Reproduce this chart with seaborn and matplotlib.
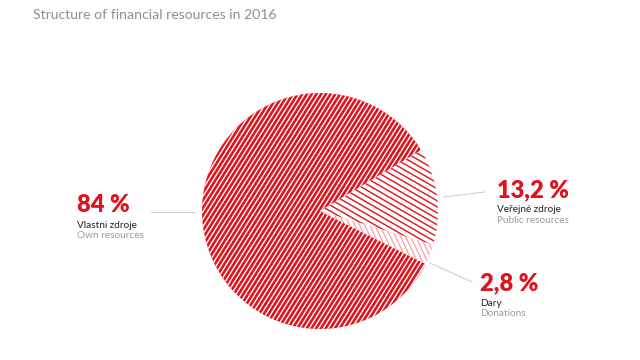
import numpy as np
import seaborn as sns
import matplotlib.pyplot as plt
from matplotlib.collections import LineCollection

# Data
categories_cz = ["Vlastni zdroje", "Veřejné zdroje", "Dary"]
categories_en = ["Own resources", "Public resources", "Donations"]
shares = [84.0, 13.2, 2.8]

sns.set_theme(style="white")
plt.rcParams['font.family'] = ['Lato', 'DejaVu Sans']

RED = "#e0121c"
PINK = "#f3a3a8"
GREY = "#9b9b9b"

fig = plt.figure(figsize=(6.4, 3.6), dpi=100)
ax = fig.add_axes([0, 0, 1, 1])

center = (320, 149)
radius = 118
wedges, _ = ax.pie(shares, center=center, radius=radius, startangle=-26.6,
                   counterclock=False, colors=[RED, "white", "white"],
                   wedgeprops=dict(linewidth=0, edgecolor="none"))

# stripe fill for each wedge: (angle, spacing, colour, width in pt)
stripes = [(58, 4.0, "white", 1.0), (-30, 5.2, RED, 1.0), (-65, 4.6, PINK, 0.9)]
for w, (ang, step, col, lw) in zip(wedges, stripes):
    a = np.deg2rad(ang)
    d = np.array([np.cos(a), np.sin(a)])
    n = np.array([-np.sin(a), np.cos(a)])
    c = np.array(center)
    segs = [[c + n * t - d * radius * 1.5, c + n * t + d * radius * 1.5]
            for t in np.arange(-radius * 1.5, radius * 1.5, step)]
    lc = LineCollection(segs, colors=col, linewidths=lw)
    ax.add_collection(lc)
    lc.set_clip_path(w)

ax.set_xlim(0, 640)
ax.set_ylim(0, 360)
ax.set_aspect('equal')
ax.axis('off')

# labels: (x, y of big number) and leader lines, in pixel layout (y from top)
label_pos = [(77, 205), (497, 190), (480, 283)]
leaders = [((151, 212), (195, 212)), ((443, 197), (485, 192)), ((430, 263), (472, 282))]

for i, v in enumerate(shares):
    x, y = label_pos[i]
    txt = f"{v:g}".replace(".", ",") + " %"
    ax.text(x, 360 - y, txt, color=RED, fontsize=17, fontweight='heavy', ha='left', va='center')
    ax.text(x, 360 - y - 20, categories_cz[i], color="#222222", fontsize=7.2, ha='left', va='center')
    ax.text(x, 360 - y - 30.5, categories_en[i], color=GREY, fontsize=7.2, ha='left', va='center')
    (x0, y0), (x1, y1) = leaders[i]
    ax.plot([x0, x1], [360 - y0, 360 - y1], color="#d0d0d0", lw=0.8)

ax.text(33, 360 - 15, "Structure of financial resources in 2016", color="#8f8f8f",
        fontsize=10.1, ha='left', va='center')

plt.savefig("out.png", dpi=100)
